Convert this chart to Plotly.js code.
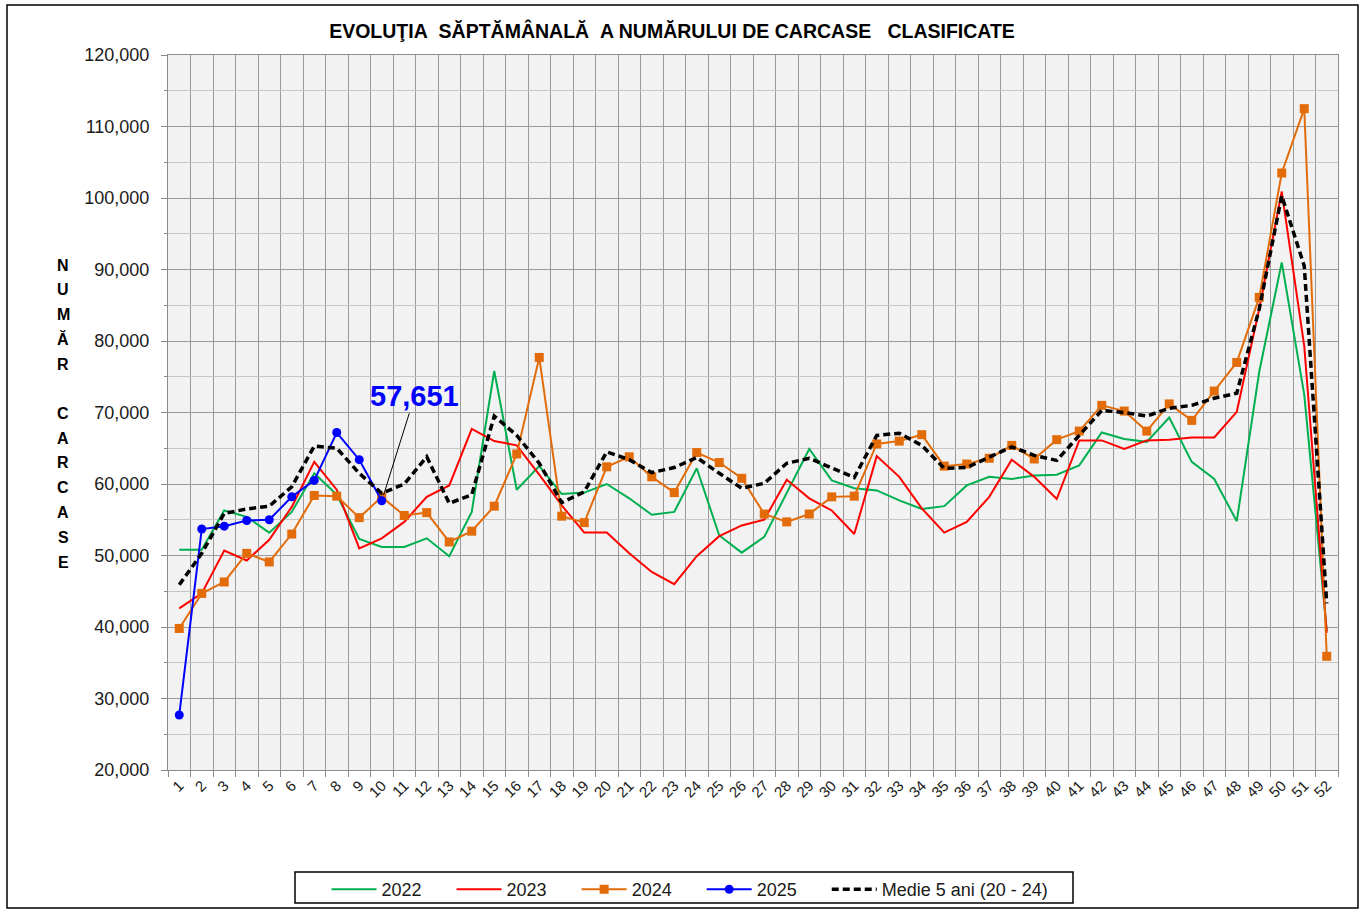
<!DOCTYPE html>
<html>
<head>
<meta charset="utf-8">
<script src="https://cdn.plot.ly/plotly-3.0.1.min.js"></script>
<style>
  html, body { margin: 0; padding: 0; background: #ffffff; }
  #chart { width: 1365px; height: 910px; }
</style>
</head>
<body>
<div id="chart"></div>
<script>
// ---- data ----
const weeks = Array.from({length: 52}, (_, i) => i + 1);

const y2022 = [50800, 50800, 56300, 55400, 53200, 56100, 61500, 58500, 52300, 51200,
               51200, 52400, 49900, 56100, 75800, 59200, 62500, 58600, 58800, 60000,
               58000, 55700, 56100, 62200, 52800, 50400, 52600, 58700, 64900, 60500,
               59400, 59100, 57700, 56500, 56900, 59800, 61000, 60700, 61200, 61300,
               62600, 67200, 66300, 65900, 69300, 63100, 60700, 54800, 75700, 91000,
               72500, 39500];

const y2023 = [42600, 44700, 50700, 49300, 52200, 56800, 63100, 59200, 51000, 52400,
               54700, 58200, 59800, 67700, 66000, 65400, 61300, 57000, 53200, 53200,
               50300, 47700, 46000, 49900, 52700, 54200, 55000, 60600, 58000, 56300,
               53000, 63900, 61000, 56600, 53200, 54700, 58200, 63400, 61000, 57900,
               66100, 66100, 64900, 66100, 66200, 66500, 66500, 70100, 84500, 100900,
               79300, 39200];

const y2024 = [39800, 44700, 46300, 50300, 49100, 53000, 58400, 58300, 55300, 58200,
               55600, 56000, 51900, 53400, 56900, 64200, 77700, 55500, 54600, 62400,
               63800, 61000, 58800, 64400, 63000, 60800, 55800, 54700, 55800, 58200,
               58300, 65600, 66000, 66900, 62500, 62800, 63600, 65400, 63500, 66200,
               67400, 71000, 70200, 67400, 71200, 68900, 73000, 77000, 86100, 103500,
               112500, 35900];

const weeks2025 = [1, 2, 3, 4, 5, 6, 7, 8, 9, 10];
const y2025 = [27700, 53700, 54100, 54900, 55000, 58200, 60500, 67200, 63400, 57651];

const yAvg = [45900, 50300, 55900, 56500, 56900, 59600, 65300, 65000, 61500, 58700,
              60000, 63800, 57300, 58500, 69500, 66800, 62900, 57400, 58900, 64500,
              63400, 61600, 62300, 63700, 61500, 59400, 60100, 62900, 63600, 62200,
              60900, 66800, 67100, 65400, 62200, 62300, 63700, 65200, 64000, 63300,
              66800, 70300, 70000, 69500, 70600, 71000, 72000, 72700, 84500, 100300,
              90500, 43300];

const seriesNames = ['2022', '2023', '2024', '2025', 'Medie 5 ani (20 - 24)'];
const chartTitle = 'EVOLUŢIA\u00a0\u00a0SĂPTĂMÂNALĂ\u00a0\u00a0A NUMĂRULUI DE CARCASE\u00a0\u00a0\u00a0CLASIFICATE';
const yTitleLetters = ['N','U','M','Ă','R','','C','A','R','C','A','S','E'];
const lastLabel = '57,651';

const FONT = 'Arial, "Liberation Sans", sans-serif';
const PAD = '\u00a0\u00a0\u00a0\u00a0\u00a0'; // legend spacing only

const traces = [
  { x: weeks, y: y2022, name: seriesNames[0] + PAD, type: 'scatter', mode: 'lines',
    line: { color: '#00b050', width: 2 } },
  { x: weeks, y: y2023, name: seriesNames[1] + PAD, type: 'scatter', mode: 'lines',
    line: { color: '#ff0000', width: 2 } },
  { x: weeks, y: y2024, name: seriesNames[2] + PAD, type: 'scatter', mode: 'lines+markers',
    line: { color: '#e36c0a', width: 2 },
    marker: { symbol: 'square', size: 9, color: '#e36c0a' } },
  { x: weeks2025, y: y2025, name: seriesNames[3] + PAD, type: 'scatter', mode: 'lines+markers',
    line: { color: '#0000ff', width: 2 },
    marker: { symbol: 'circle', size: 9, color: '#0000ff' } },
  { x: weeks, y: yAvg, name: seriesNames[4], type: 'scatter', mode: 'lines',
    line: { color: '#000000', width: 3.5, dash: '7px,4px' } }
];

const annotations = [
  { x: weeks2025[weeks2025.length - 1], y: y2025[y2025.length - 1], xref: 'x', yref: 'y',
    text: '<b>' + lastLabel + '</b>', showarrow: true, arrowhead: 0, arrowwidth: 1,
    arrowcolor: '#000', ax: 33, ay: -105, standoff: 6,
    font: { family: FONT, size: 29, color: '#0000ff' } }
];
// vertical stacked y-axis title
const letterTop = 265, letterStep = 24.75, plotTop = 55, plotH = 715;
yTitleLetters.forEach((ch, i) => {
  if (!ch) return;
  const py = letterTop + i * letterStep;
  annotations.push({
    xref: 'paper', yref: 'paper', x: (63 - 168) / 1170, y: 1 - (py - plotTop) / plotH,
    xanchor: 'center', yanchor: 'middle', showarrow: false,
    text: '<b>' + ch + '</b>', font: { family: FONT, size: 16, color: '#000' }
  });
});

const layout = {
  width: 1365, height: 910,
  margin: { l: 168, r: 27, t: 55, b: 140 },
  paper_bgcolor: '#ffffff',
  plot_bgcolor: '#f2f2f2',
  font: { family: FONT, size: 15, color: '#1a1a1a' },
  title: {
    text: '<b>' + chartTitle + '</b>',
    font: { family: FONT, size: 19.5, color: '#000' },
    xref: 'paper', x: (672 - 168) / 1170, xanchor: 'center',
    yref: 'container', y: 1 - 31 / 910, yanchor: 'middle',
    automargin: false
  },
  xaxis: {
    range: [0.5, 52.5],
    tickmode: 'linear', tick0: 1, dtick: 1,
    showgrid: false, zeroline: false, automargin: false,
    ticks: '', tickangle: -45,
    tickfont: { family: FONT, size: 15, color: '#1a1a1a' },
    showline: true, linecolor: '#8c8c8c', linewidth: 1, mirror: true,
    minor: { tick0: 0.5, dtick: 1, showgrid: true, gridcolor: '#9a9a9a', gridwidth: 1,
             ticks: 'outside', ticklen: 6, tickcolor: '#8c8c8c' }
  },
  yaxis: {
    range: [20000, 120000],
    tickmode: 'linear', tick0: 20000, dtick: 10000,
    tickformat: ',d', automargin: false,
    showgrid: true, gridcolor: '#9a9a9a', gridwidth: 1, zeroline: false,
    ticks: 'outside', ticklen: 6, tickcolor: '#8c8c8c',
    ticklabelstandoff: 8,
    tickfont: { family: FONT, size: 18, color: '#1a1a1a' },
    showline: true, linecolor: '#8c8c8c', linewidth: 1, mirror: true,
    minor: { dtick: 5000, showgrid: true, gridcolor: '#c6c6c6', gridwidth: 1,
             ticks: 'outside', ticklen: 3, tickcolor: '#8c8c8c' }
  },
  showlegend: true,
  legend: {
    orientation: 'h',
    xref: 'container', x: 690 / 1365, xanchor: 'center',
    yref: 'container', y: 1 - 871 / 910, yanchor: 'top',
    bgcolor: 'rgba(0,0,0,0)', borderwidth: 0,
    font: { family: FONT, size: 18, color: '#1a1a1a' },
    itemwidth: 45, tracegroupgap: 0
  },
  annotations: annotations,
  shapes: [
    { type: 'rect', xref: 'paper', yref: 'paper',
      x0: (7 - 168) / 1170, x1: (1358 - 168) / 1170,
      y0: -(908 - 770) / 715, y1: 1 + (55 - 5) / 715,
      line: { color: '#000', width: 1.5 }, fillcolor: 'rgba(0,0,0,0)', layer: 'below' },
    { type: 'rect', xref: 'paper', yref: 'paper',
      x0: (295 - 168) / 1170, x1: (1073 - 168) / 1170,
      y0: -(903 - 770) / 715, y1: -(872 - 770) / 715,
      line: { color: '#000', width: 1.5 }, fillcolor: '#ffffff', layer: 'below' }
  ]
};

Plotly.newPlot('chart', traces, layout, { displayModeBar: false, staticPlot: true });
</script>
</body>
</html>
